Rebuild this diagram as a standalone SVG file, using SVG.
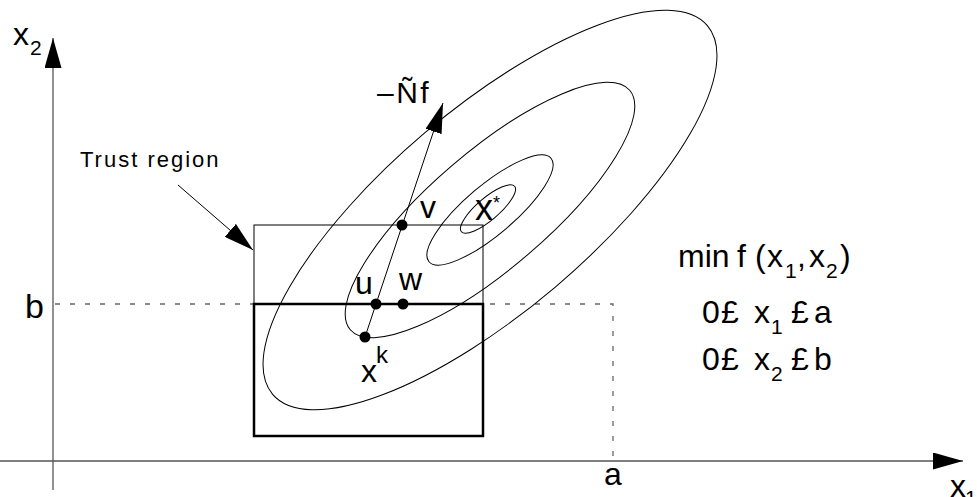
<svg xmlns="http://www.w3.org/2000/svg" width="977" height="497" viewBox="0 0 977 497">
<style>
  .ax { stroke:#555; stroke-width:1.3; fill:none; }
  .dash { stroke:#666; stroke-width:1.3; fill:none; stroke-dasharray:5 10; }
  .thin { stroke:#000; stroke-width:1; fill:none; }
  .bold { stroke:#000; stroke-width:2.5; fill:none; }
  .dot { fill:#000; }
  text { font-family:"Liberation Sans", Arial, sans-serif; fill:#000; }
  .lbl { font-size:32px; }
  .sub { font-size:21px; }
</style>
<defs>
  <marker id="arr" viewBox="0 0 30 17" markerWidth="30" markerHeight="17" refX="30" refY="8.5" markerUnits="userSpaceOnUse" orient="auto">
    <path d="M0,0 L30,8.5 L0,17 Z" fill="#000"/>
  </marker>
</defs>
<rect width="977" height="497" fill="#fff"/>

<g id="axes">
  <line class="ax" x1="53" y1="490" x2="53" y2="38" marker-end="url(#arr)"/>
  <line class="ax" x1="0" y1="461" x2="963" y2="461" marker-end="url(#arr)"/>
  <text class="lbl" x="13" y="45">x<tspan class="sub" x="30" y="55">2</tspan></text>
  <text class="lbl" x="950" y="497">x<tspan class="sub" x="965" y="505">1</tspan></text>
  <text class="lbl" x="25" y="318" style="font-size:34px">b</text>
  <text class="lbl" x="604" y="485">a</text>
</g>

<g id="bounds">
  <polyline class="dash" points="55,304 613,304 613,461"/>
</g>

<g id="contours">
  <ellipse class="thin" cx="490" cy="210" rx="285" ry="101" transform="rotate(-40.3 490 210)"/>
  <ellipse class="thin" cx="490" cy="210" rx="184" ry="58.5" transform="rotate(-40.6 490 210)"/>
  <ellipse class="thin" cx="490" cy="210" rx="80" ry="24.6" transform="rotate(-40.3 490 210)"/>
  <ellipse class="thin" cx="488" cy="209" rx="35" ry="11" transform="rotate(-40.5 488 209)"/>
</g>

<g id="trust-region">
  <rect class="thin" x="254" y="225" width="229" height="211"/>
  <rect class="bold" x="254" y="304" width="229" height="132"/>
</g>

<g id="connectors">
  <line class="thin" x1="365" y1="337" x2="443" y2="103" marker-end="url(#arr)"/>
  <line class="thin" x1="178" y1="185" x2="253" y2="250" marker-end="url(#arr)"/>
</g>

<g id="node-xk">
  <circle class="dot" cx="365" cy="337" r="5.5"/>
  <text class="lbl" x="361" y="382">x</text>
  <text class="sub" x="376" y="363" style="font-size:24px">k</text>
</g>
<g id="node-u">
  <circle class="dot" cx="376" cy="304" r="5.5"/>
  <text class="lbl" x="355" y="294">u</text>
</g>
<g id="node-w">
  <circle class="dot" cx="403" cy="304" r="5.5"/>
  <text class="lbl" x="399" y="290">w</text>
</g>
<g id="node-v">
  <circle class="dot" cx="402" cy="225" r="5.5"/>
  <text class="lbl" x="420" y="218">v</text>
</g>
<g id="node-xstar">
  <text class="lbl" x="475" y="220" style="font-size:36px">x</text>
  <text class="sub" x="493" y="209" style="font-size:18px">*</text>
</g>
<g id="grad-label">
  <text class="lbl" x="377" y="103" style="font-size:30px" letter-spacing="2.5">–Ñf</text>
</g>
<g id="trust-label">
  <text x="80" y="167" style="font-size:22px" letter-spacing="2">Trust region</text>
</g>

<g id="problem">
  <text class="lbl" y="267"><tspan x="678">min</tspan><tspan x="737">f</tspan><tspan x="755">(</tspan><tspan x="767">x</tspan><tspan class="sub" x="785" y="278">1</tspan><tspan x="797" y="267">,</tspan><tspan x="809">x</tspan><tspan class="sub" x="826" y="278">2</tspan><tspan x="840" y="267">)</tspan></text>
  <text class="lbl" y="323"><tspan x="702">0</tspan><tspan x="721">£</tspan><tspan x="754">x</tspan><tspan class="sub" x="771" y="334">1</tspan><tspan x="791" y="323">£</tspan><tspan x="814">a</tspan></text>
  <text class="lbl" y="370"><tspan x="702">0</tspan><tspan x="721">£</tspan><tspan x="754">x</tspan><tspan class="sub" x="771" y="381">2</tspan><tspan x="791" y="370">£</tspan><tspan x="814">b</tspan></text>
</g>
</svg>
